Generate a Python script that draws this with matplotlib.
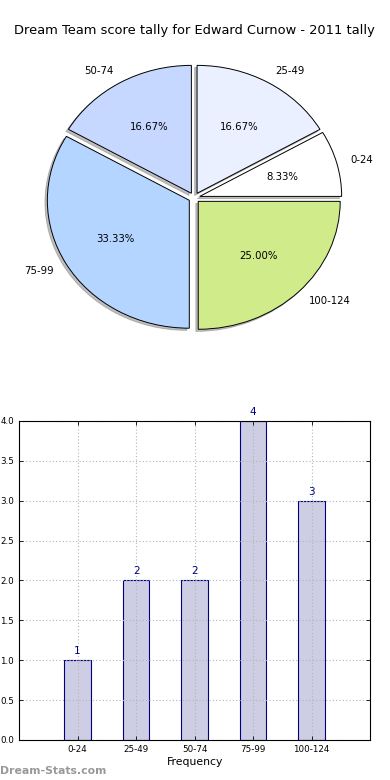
import matplotlib
matplotlib.use("Agg")
import matplotlib.pyplot as plt

# score tally data
categories = ["0-24", "25-49", "50-74", "75-99", "100-124"]
counts = [1, 2, 2, 4, 3]
pie_colors = ["#ffffff", "#eaf0ff", "#c6d8ff", "#b4d5ff", "#d0eb8a"]

title = "Dream Team score tally for Edward Curnow - 2011 tally"

fig = plt.figure(figsize=(3.9, 7.8), dpi=100)

# pie (old-style, not forced circular)
ax1 = fig.add_axes([0.043, 0.5415, 0.91, 0.41])
wedges, texts, autotexts = ax1.pie(
    counts,
    labels=categories,
    colors=pie_colors,
    explode=[0.04] * len(counts),
    autopct="%1.2f%%",
    shadow={"ox": -0.012, "oy": -0.012, "color": "#808080"},
    startangle=0,
    wedgeprops={"edgecolor": "black", "linewidth": 0.7},
    textprops={"fontsize": 7.3},
)
ax1.set_aspect("auto")
ax1.set_xlim(-1.25, 1.25)
ax1.set_ylim(-1.25, 1.25)
ax1.set_title(title, fontsize=9.4, pad=3)

# bar chart
ax2 = fig.add_axes([0.049, 0.0513, 0.9, 0.409])
x = list(range(len(categories)))
bars = ax2.bar(x, counts, width=0.45, color="#cdcde4",
               edgecolor="#000080", linewidth=0.8, zorder=1)
for xi, c in zip(x, counts):
    ax2.text(xi, c + 0.05, str(c), ha="center", va="bottom",
             color="#000080", fontsize=7.5, clip_on=False)

ax2.set_xlim(-1, len(categories))
ax2.set_ylim(0, 4)
ax2.set_yticks([0.0, 0.5, 1.0, 1.5, 2.0, 2.5, 3.0, 3.5, 4.0])
ax2.set_yticklabels(["0.0", "0.5", "1.0", "1.5", "2.0", "2.5", "3.0", "3.5", "4.0"])
ax2.set_xticks(x)
ax2.set_xticklabels(categories)
ax2.tick_params(axis="both", direction="in", labelsize=6.3, length=3,
                top=True, right=True, width=0.6)
# grid over the bars but under the frame
ax2.set_axisbelow("line")
ax2.grid(True, linestyle=(0, (1, 2)), color="#b5b5b5", linewidth=0.8)
for sp in ax2.spines.values():
    sp.set_zorder(3)
ax2.set_xlabel("Frequency", fontsize=7.8, labelpad=2)

fig.text(0.0, 0.005, "Dream-Stats.com", color="#999999", fontsize=7.8,
         fontweight="bold", ha="left", va="bottom")

fig.savefig("out.png", dpi=100)
